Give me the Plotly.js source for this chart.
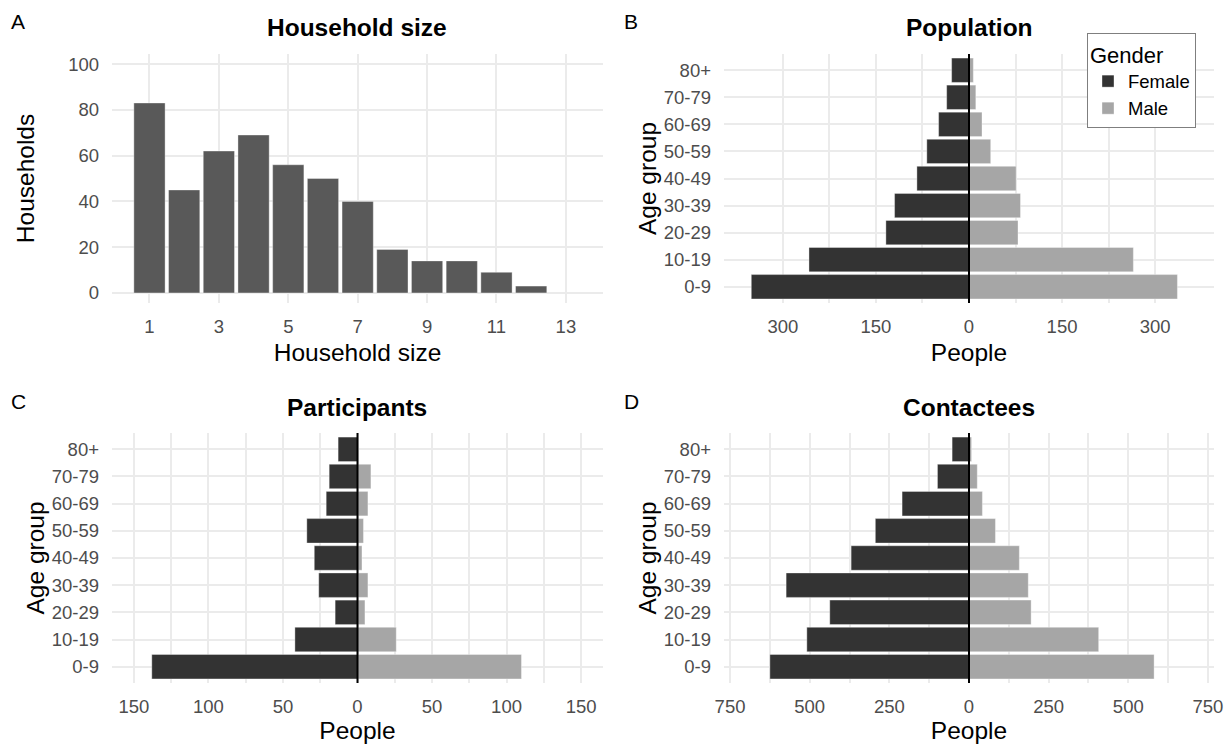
<!DOCTYPE html>
<html>
<head>
<meta charset="utf-8">
<script src="https://cdn.plot.ly/plotly-3.0.1.min.js"></script>
<style>html,body{margin:0;padding:0;background:#fff;}#chart{width:1231px;height:744px;}</style>
</head>
<body>
<div id="chart"></div>
<script>
// ---- Data ----
const hhSize = [1, 2, 3, 4, 5, 6, 7, 8, 9, 10, 11, 12];
const hhCount = [83, 45, 62, 69, 56, 50, 40, 19, 14, 14, 9, 3];
const hhTickVals = [1, 3, 5, 7, 9, 11, 13];
const hhYTicks = [0, 20, 40, 60, 80, 100];

const ageGroups = ['0-9', '10-19', '20-29', '30-39', '40-49', '50-59', '60-69', '70-79', '80+'];

const popFemale = [351, 258, 134, 120, 84, 68, 49, 36, 28];
const popMale   = [336, 265, 79, 83, 76, 35, 21, 11, 7];

const partFemale = [138, 42, 15, 26, 29, 34, 21, 19, 13];
const partMale   = [110, 26, 5, 7, 3, 4, 7, 9, 0];

const contFemale = [625, 509, 437, 574, 370, 294, 210, 99, 53];
const contMale   = [581, 407, 195, 186, 158, 83, 42, 26, 8];

const popTickVals = [-300, -150, 0, 150, 300];
const popTickText = ['300', '150', '0', '150', '300'];
const popMinor = [-225, -75, 75, 225];

const partTickVals = [-150, -100, -50, 0, 50, 100, 150];
const partTickText = ['150', '100', '50', '0', '50', '100', '150'];
const partMinor = [-125, -75, -25, 25, 75, 125];

const contTickVals = [-750, -500, -250, 0, 250, 500, 750];
const contTickText = ['750', '500', '250', '0', '250', '500', '750'];
const contMinor = [-625, -375, -125, 125, 375, 625];

// ---- Style ----
const W = 1231, H = 744;
const FONT = 'Liberation Sans, Arial, Helvetica, sans-serif';
const FEMALE = '#333333', MALE = '#a6a6a6', HHCOL = '#595959';
const GRID = '#ebebeb';
const tickFont = {family: FONT, size: 18.5, color: '#4d4d4d'};
const titleFont = {family: FONT, size: 24.5, color: '#000'};
const px = v => v / W, py = v => 1 - v / H;

const neg = a => a.map(v => -v);
const barLine = {color: 'rgba(255,255,255,0.6)', width: 0.6};

function pyramid(f, m, xa, ya, show) {
  return [
    {type: 'bar', orientation: 'h', name: 'Female', y: ageGroups, x: neg(f), customdata: f,
     hovertemplate: '%{y}: %{customdata}<extra>Female</extra>',
     marker: {color: FEMALE, line: barLine}, xaxis: xa, yaxis: ya, showlegend: show, legendgroup: 'F'},
    {type: 'bar', orientation: 'h', name: 'Male', y: ageGroups, x: m,
     hovertemplate: '%{y}: %{x}<extra>Male</extra>',
     marker: {color: MALE, line: barLine}, xaxis: xa, yaxis: ya, showlegend: show, legendgroup: 'M'}
  ];
}

const traces = [
  {type: 'bar', x: hhSize, y: hhCount, marker: {color: HHCOL, line: barLine},
   xaxis: 'x', yaxis: 'y', showlegend: false, hovertemplate: 'Size %{x}: %{y}<extra></extra>'},
  ...pyramid(popFemale, popMale, 'x2', 'y2', true),
  ...pyramid(partFemale, partMale, 'x3', 'y3', false),
  ...pyramid(contFemale, contMale, 'x4', 'y4', false)
];

const baseX = {
  showgrid: true, gridcolor: GRID, gridwidth: 2, zeroline: false, showline: false,
  ticks: '', tickfont: tickFont, ticklabelstandoff: 12, fixedrange: true
};
function xAxis(domain, range, vals, text, minor, title, anchor) {
  const a = Object.assign({}, baseX, {
    domain: domain, range: range, anchor: anchor, tickmode: 'array', tickvals: vals,
    ticklabelstandoff: 10,
    title: {text: title, font: titleFont, standoff: 8}
  });
  if (text) a.ticktext = text;
  if (minor) a.minor = {tickvals: minor, showgrid: true, gridcolor: GRID, gridwidth: 1.5, ticks: ''};
  return a;
}
function catY(domain, anchor) {
  return Object.assign({}, baseX, {
    domain: domain, anchor: anchor, type: 'category', categoryorder: 'array', categoryarray: ageGroups,
    range: [-0.6, 8.6], title: {text: 'Age group', font: titleFont, standoff: 0}
  });
}

const topDom = [py(303), py(54)];
const botDom = [py(683), py(433)];
const leftDom = [px(112), px(603)];
const rightDom = [px(724), px(1214)];

const layout = {
  width: W, height: H,
  margin: {l: 0, r: 0, t: 0, b: 0},
  paper_bgcolor: '#fff', plot_bgcolor: '#fff',
  font: {family: FONT, color: '#000'},
  barmode: 'relative', bargap: 0.1,
  xaxis: xAxis(leftDom, [-0.08, 14.07], hhTickVals, null, null, 'Household size', 'y'),
  yaxis: Object.assign({}, baseX, {domain: topDom, anchor: 'x', range: [-4.4, 104.4], tickmode: 'array',
    tickvals: hhYTicks, title: {text: 'Households', font: titleFont, standoff: 26}}),
  xaxis2: xAxis(rightDom, [-395, 395], popTickVals, popTickText, popMinor, 'People', 'y2'),
  yaxis2: catY(topDom, 'x2'),
  xaxis3: xAxis(leftDom, [-164.7, 164.7], partTickVals, partTickText, partMinor, 'People', 'y3'),
  yaxis3: catY(botDom, 'x3'),
  xaxis4: xAxis(rightDom, [-769, 769], contTickVals, contTickText, contMinor, 'People', 'y4'),
  yaxis4: catY(botDom, 'x4'),
  showlegend: true,
  legend: {
    x: px(1087), y: py(33), xanchor: 'left', yanchor: 'top',
    bordercolor: '#7f7f7f', borderwidth: 1, bgcolor: '#fff',
    title: {text: 'Gender', font: {family: FONT, size: 22, color: '#000'}},
    font: {family: FONT, size: 18.5, color: '#000'}, traceorder: 'normal',
    itemwidth: 30, tracegroupgap: 0
  },
  shapes: ['2', '3', '4'].map(k => ({
    type: 'line', xref: 'x' + k, yref: 'y' + k + ' domain', x0: 0, x1: 0, y0: 0, y1: 1,
    line: {color: '#000', width: 2}, layer: 'above'
  })),
  annotations: [
    {text: '<b>Household size</b>', x: (leftDom[0] + leftDom[1]) / 2, y: py(28)},
    {text: '<b>Population</b>', x: (rightDom[0] + rightDom[1]) / 2, y: py(28)},
    {text: '<b>Participants</b>', x: (leftDom[0] + leftDom[1]) / 2, y: py(408)},
    {text: '<b>Contactees</b>', x: (rightDom[0] + rightDom[1]) / 2, y: py(408)}
  ].map(a => Object.assign(a, {xref: 'paper', yref: 'paper', showarrow: false, xanchor: 'center',
    yanchor: 'middle', font: {family: FONT, size: 24.5, color: '#000'}})).concat(
    [['A', 18, 22], ['B', 631, 22], ['C', 18, 401], ['D', 631, 401]].map(t => ({
      text: t[0], x: px(t[1]), y: py(t[2]), xref: 'paper', yref: 'paper', showarrow: false,
      xanchor: 'center', yanchor: 'middle', font: {family: FONT, size: 21, color: '#000'}
    })))
};

Plotly.newPlot('chart', traces, layout, {displayModeBar: false, staticPlot: false});
</script>
</body>
</html>
